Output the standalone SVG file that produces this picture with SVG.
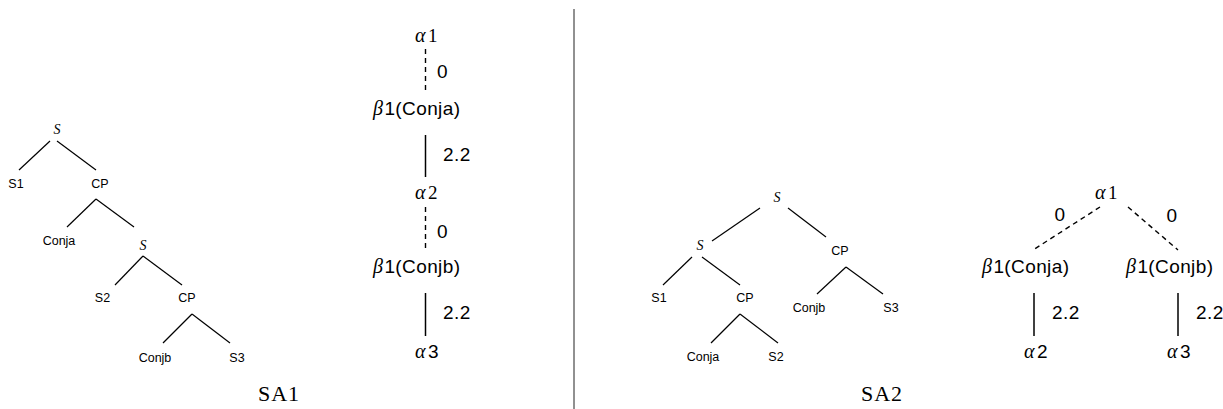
<svg xmlns="http://www.w3.org/2000/svg" width="1223" height="409" viewBox="0 0 1223 409">
<style>
.bg{fill:#fff}
.e{stroke:#000;stroke-width:1.2;fill:none}
.d{stroke:#000;stroke-width:1.4;fill:none;stroke-dasharray:5 4}
.s{stroke:#000;stroke-width:1.5;fill:none}
.n{font-family:"Liberation Sans",Arial,sans-serif;font-size:12.5px;fill:#000;text-anchor:middle}
.si{font-family:"Liberation Serif","Times New Roman",serif;font-style:italic;font-size:14px;fill:#000;text-anchor:middle}
.c{font-family:"Liberation Sans",Arial,sans-serif;font-size:19px;fill:#000;letter-spacing:0.4px}
.g{font-family:"Liberation Serif","Times New Roman",serif;font-style:italic;font-size:20px}
.r{font-family:"Liberation Serif","Times New Roman",serif;font-size:19px}
.t{font-family:"Liberation Serif","Times New Roman",serif;font-size:22px;fill:#000;text-anchor:middle;letter-spacing:1px}
</style>
<rect class="bg" x="0" y="0" width="1223" height="409"/>
<line x1="574" y1="9" x2="574" y2="409" stroke="#222" stroke-width="1"/>

<g id="connectors">
<line class="e" x1="50" y1="141" x2="19" y2="170"/>
<line class="e" x1="57" y1="141" x2="96" y2="170"/>
<line class="e" x1="96" y1="199" x2="67" y2="227"/>
<line class="e" x1="96" y1="199" x2="134" y2="227"/>
<line class="e" x1="143" y1="256" x2="115" y2="285"/>
<line class="e" x1="143" y1="256" x2="182" y2="285"/>
<line class="e" x1="192" y1="314" x2="163" y2="343"/>
<line class="e" x1="192" y1="314" x2="230" y2="343"/>

<line class="d" x1="425.5" y1="49" x2="425.5" y2="91"/>
<line class="s" x1="425.5" y1="135" x2="425.5" y2="177"/>
<line class="d" x1="425.5" y1="207" x2="425.5" y2="250"/>
<line class="s" x1="425.5" y1="293" x2="425.5" y2="336"/>

<line class="e" x1="760" y1="208" x2="712" y2="241"/>
<line class="e" x1="788" y1="208" x2="826" y2="237"/>
<line class="e" x1="692" y1="257" x2="663" y2="285"/>
<line class="e" x1="702" y1="257" x2="740" y2="285"/>
<line class="e" x1="740" y1="314" x2="711" y2="343"/>
<line class="e" x1="740" y1="314" x2="778" y2="343"/>
<line class="e" x1="846" y1="267" x2="817" y2="294"/>
<line class="e" x1="846" y1="267" x2="883" y2="294"/>

<line class="d" x1="1100" y1="207" x2="1033" y2="250"/>
<line class="d" x1="1128" y1="207" x2="1178" y2="250"/>
<line class="s" x1="1034" y1="293" x2="1034" y2="336"/>
<line class="s" x1="1178" y1="293" x2="1178" y2="336"/>
</g>

<g id="sa1-tree">
<g id="l-S"><text class="si" x="57" y="134">S</text></g>
<g id="l-S1"><text class="n" x="16" y="188">S1</text></g>
<g id="l-CP1"><text class="n" x="100" y="188">CP</text></g>
<g id="l-Conja"><text class="n" x="59" y="245">Conja</text></g>
<g id="l-S-2"><text class="si" x="143" y="250">S</text></g>
<g id="l-S2"><text class="n" x="102.5" y="302">S2</text></g>
<g id="l-CP2"><text class="n" x="187" y="302">CP</text></g>
<g id="l-Conjb"><text class="n" x="155" y="362">Conjb</text></g>
<g id="l-S3"><text class="n" x="237" y="362">S3</text></g>
</g>

<g id="sa1-chain">
<g id="c1-a1"><text class="c" x="415" y="42"><tspan class="g">α</tspan><tspan class="r" dx="2">1</tspan></text></g>
<g id="c1-l0a"><text class="c" x="437" y="78">0</text></g>
<g id="c1-b1a"><text class="c" x="373" y="115"><tspan class="g">β</tspan><tspan dx="1">1(Conja)</tspan></text></g>
<g id="c1-l22a"><text class="c" x="443" y="161">2.2</text></g>
<g id="c1-a2"><text class="c" x="415" y="199"><tspan class="g">α</tspan><tspan class="r" dx="2">2</tspan></text></g>
<g id="c1-l0b"><text class="c" x="437" y="238">0</text></g>
<g id="c1-b1b"><text class="c" x="373" y="273"><tspan class="g">β</tspan><tspan dx="1">1(Conjb)</tspan></text></g>
<g id="c1-l22b"><text class="c" x="443" y="319">2.2</text></g>
<g id="c1-a3"><text class="c" x="415" y="358"><tspan class="g">α</tspan><tspan dx="2">3</tspan></text></g>
</g>

<g id="sa2-tree">
<g id="r-S"><text class="si" x="777" y="202">S</text></g>
<g id="r-S-2"><text class="si" x="700" y="250">S</text></g>
<g id="r-S1"><text class="n" x="659" y="302">S1</text></g>
<g id="r-CP1"><text class="n" x="745" y="302">CP</text></g>
<g id="r-Conja"><text class="n" x="703" y="361">Conja</text></g>
<g id="r-S2"><text class="n" x="776" y="361">S2</text></g>
<g id="r-CP2"><text class="n" x="840" y="255">CP</text></g>
<g id="r-Conjb"><text class="n" x="809" y="312">Conjb</text></g>
<g id="r-S3"><text class="n" x="891" y="312">S3</text></g>
</g>

<g id="sa2-chain">
<g id="c2-a1"><text class="c" x="1095" y="199"><tspan class="g">α</tspan><tspan class="r" dx="2">1</tspan></text></g>
<g id="c2-l0a"><text class="c" x="1060" y="221" text-anchor="middle">0</text></g>
<g id="c2-l0b"><text class="c" x="1172" y="222" text-anchor="middle">0</text></g>
<g id="c2-b1a"><text class="c" x="982" y="273"><tspan class="g">β</tspan><tspan dx="1">1(Conja)</tspan></text></g>
<g id="c2-b1b"><text class="c" x="1126" y="273"><tspan class="g">β</tspan><tspan dx="1">1(Conjb)</tspan></text></g>
<g id="c2-l22a"><text class="c" x="1052" y="319">2.2</text></g>
<g id="c2-l22b"><text class="c" x="1196" y="319">2.2</text></g>
<g id="c2-a2"><text class="c" x="1024" y="358"><tspan class="g">α</tspan><tspan dx="2">2</tspan></text></g>
<g id="c2-a3"><text class="c" x="1167" y="358"><tspan class="g">α</tspan><tspan dx="2">3</tspan></text></g>
</g>

<g id="captions">
<text class="t" x="279" y="401">SA1</text>
<text class="t" x="882" y="401">SA2</text>
</g>
</svg>
